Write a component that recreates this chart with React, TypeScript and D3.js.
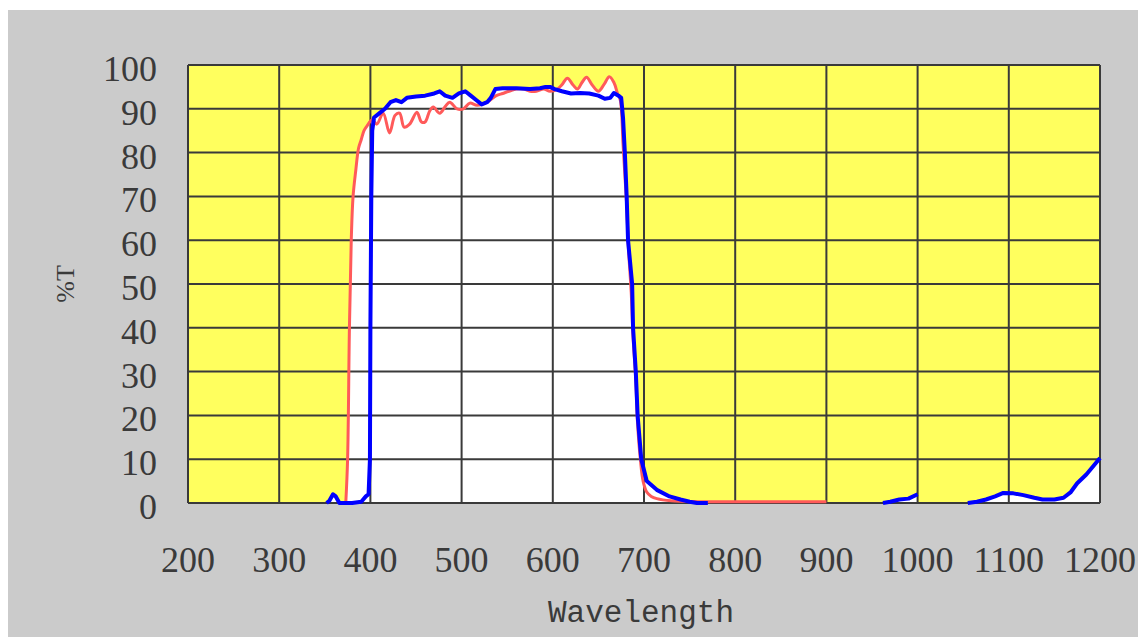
import React from "react";
import * as d3 from "d3";

const xTicks = [200, 300, 400, 500, 600, 700, 800, 900, 1000, 1100, 1200];
const yTicks = [0, 10, 20, 30, 40, 50, 60, 70, 80, 90, 100];

// Red curve (nm, T%)
const redNm = [373, 375, 377, 379, 381, 384, 387, 390, 393, 396, 402, 407, 414, 421, 427, 432, 437, 443, 451, 456, 460, 465, 469, 476, 482, 487, 495, 502, 509, 517, 528, 538, 545, 552, 560, 568, 575, 582, 590, 597, 605, 610, 616, 622, 627, 632, 637, 643, 650, 656, 662, 667, 671, 674, 677, 679, 681, 683, 686, 688, 691, 693, 696, 699, 703, 708, 714, 730, 760, 800, 850, 900];
const redT = [0, 10, 40, 60, 70, 76, 81, 83, 85, 86, 87.5, 86.5, 89, 84.5, 88.5, 89, 85.8, 86.5, 89.2, 87, 87, 89.5, 90.4, 89, 90.5, 91.5, 90, 90, 91.3, 90.8, 91.5, 93, 93.5, 94, 94.5, 94.5, 94, 94, 94.5, 94, 94.5, 95.5, 97, 95.5, 94.5, 96, 97.2, 95.5, 94, 95.5, 97.3, 96, 93.5, 92, 82, 75, 68, 58, 48, 38, 28, 18, 10, 5, 2.5, 1.5, 1, 0.5, 0.3, 0.3, 0.3, 0.3];

// Blue curve, three visible segments
const blueNm1 = [352, 355, 359, 362, 366, 372, 380, 390, 395, 398, 399.5, 400, 401, 402, 404, 410, 416, 422, 428, 434, 440, 450, 460, 470, 476, 482, 490, 497, 504, 510, 516, 522, 528, 532, 537, 545, 560, 575, 586, 592, 597, 602, 610, 620, 630, 640, 650, 657, 663, 667, 672, 675, 677, 679, 681, 682.5, 687, 688, 691, 693, 697, 703, 714, 728, 740, 750, 758, 770];
const blueT1 = [0, 0.5, 2, 1.5, 0, 0, 0, 0.3, 1.5, 2, 10, 40, 70, 85, 88, 89, 90, 91.5, 92, 91.5, 92.5, 92.8, 93, 93.5, 94, 93, 92.5, 93.5, 94, 93, 92, 91, 91.5, 92.5, 94.5, 94.7, 94.7, 94.5, 94.7, 95, 95, 94.5, 94, 93.5, 93.6, 93.5, 93, 92.3, 92.5, 93.6, 93, 92.5, 88, 80, 70, 60, 50, 40, 30, 20, 10, 5, 3, 1.5, 0.8, 0.3, 0, 0];
const blueNm2 = [962, 970, 980, 990, 1000];
const blueT2 = [0, 0.3, 0.8, 1, 2];
const blueNm3 = [1055, 1065, 1075, 1085, 1094, 1105, 1116, 1128, 1137, 1150, 1160, 1168, 1175, 1185, 1193, 1200];
const blueT3 = [0, 0.3, 0.8, 1.5, 2.3, 2.2, 1.8, 1.2, 0.8, 0.8, 1.2, 2.5, 4.5, 6.5, 8.5, 10.3];

type P = [number, number];
const zip = (a: number[], b: number[]): P[] => a.map((v, i) => [v, b[i]]);

export default function App() {
  const W = 1138, H = 637;
  const left = 188, right = 1100, top = 65, bottom = 503;
  const x = d3.scaleLinear().domain([200, 1200]).range([left, right]);
  const y = d3.scaleLinear().domain([0, 100]).range([bottom, top]);

  const smooth = d3.curveCatmullRom.alpha(0.5);
  const redLine = d3.line<P>().x(d => x(d[0])).y(d => y(d[1])).curve(smooth);
  const redArea = d3.area<P>().x(d => x(d[0])).y0(y(0)).y1(d => y(d[1])).curve(smooth);
  const line = d3.line<P>().x(d => x(d[0])).y(d => y(d[1]));
  const area = d3.area<P>().x(d => x(d[0])).y0(y(0)).y1(d => y(d[1]));

  const red = zip(redNm, redT);
  const blues = [zip(blueNm1, blueT1), zip(blueNm2, blueT2), zip(blueNm3, blueT3)];

  const grid = "#3a3a3a";
  return (
    <svg width={W} height={H} style={{ position: "absolute", left: 0, top: 0 }}>
      <rect x={0} y={0} width={W} height={H} fill="#ffffff" />
      <rect x={8} y={10} width={W - 8} height={H - 10} fill="#cbcbcb" />
      <rect x={left} y={top} width={right - left} height={bottom - top} fill="#ffff5e" />
      <path d={redArea(red) || ""} fill="#ffffff" />
      {blues.map((b, i) => (
        <path key={"ba" + i} d={area(b) || ""} fill="#ffffff" />
      ))}
      {yTicks.map(t => (
        <line key={"h" + t} x1={left} x2={right} y1={y(t)} y2={y(t)} stroke={grid} strokeWidth={2} />
      ))}
      {xTicks.map(t => (
        <line key={"v" + t} x1={x(t)} x2={x(t)} y1={top} y2={bottom} stroke={grid} strokeWidth={2} />
      ))}
      <path d={redLine(red) || ""} fill="none" stroke="#ff5a5a" strokeWidth={3} strokeLinejoin="round" />
      {blues.map((b, i) => (
        <path key={"bl" + i} d={line(b) || ""} fill="none" stroke="#0000ff" strokeWidth={4} strokeLinejoin="round" />
      ))}
      {yTicks.map(t => (
        <text key={"yl" + t} x={157} y={y(t) + 16} textAnchor="end" fontFamily="Liberation Serif" fontSize={36} fill="#3a3a3a">
          {t}
        </text>
      ))}
      {xTicks.map(t => (
        <text key={"xl" + t} x={x(t)} y={572} textAnchor="middle" fontFamily="Liberation Serif" fontSize={36} fill="#3a3a3a">
          {t}
        </text>
      ))}
      <text x={641} y={622} textAnchor="middle" fontFamily="Liberation Mono" fontSize={31} fill="#3a3a3a">
        Wavelength
      </text>
      <text transform="translate(74,284) rotate(-90)" textAnchor="middle" fontFamily="Liberation Serif" fontSize={26} fill="#3a3a3a">
        %T
      </text>
    </svg>
  );
}
